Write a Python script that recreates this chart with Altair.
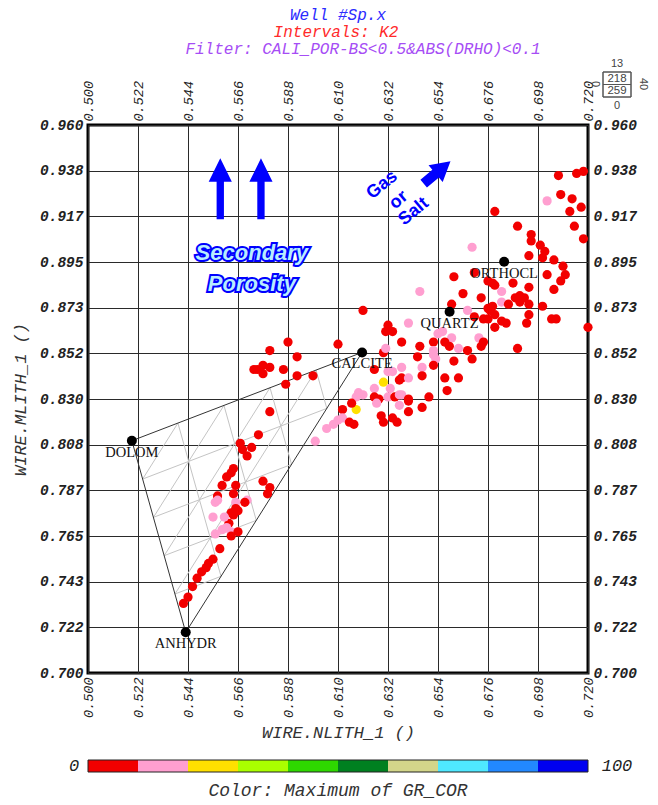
import altair as alt
import pandas as pd

# ---------------- texts ----------------
TITLE_WELL = "Well #Sp.x"
TITLE_INTERVALS = "Intervals: K2"
TITLE_FILTER = "Filter: CALI_POR-BS<0.5&ABS(DRHO)<0.1"
X_TITLE = "WIRE.NLITH_1 ()"
Y_TITLE = "WIRE.MLITH_1 ()"
COLOR_TITLE = "Color: Maximum of GR_COR"
COLORBAR_LABELS = ["0", "100"]
STATS_TOP = ["13"]
STATS_BOX = ["218", "259"]
STATS_LEFT = ["0"]
STATS_RIGHT = ["40"]
STATS_BOTTOM = ["0"]

X_TICKS = [0.500, 0.522, 0.544, 0.566, 0.588, 0.610, 0.632, 0.654, 0.676, 0.698, 0.720]
Y_TICKS = [0.700, 0.72167, 0.74333, 0.765, 0.78667, 0.80833, 0.830, 0.85167,
           0.87333, 0.895, 0.91667, 0.93833, 0.960]

# ---------------- data points ----------------
NLITH = [
    0.707, 0.715, 0.718, 0.702, 0.708, 0.713, 0.717, 0.712, 0.679, 0.714,
    0.689, 0.695, 0.695, 0.718, 0.669, 0.699, 0.701, 0.700, 0.694, 0.705,
    0.709, 0.702, 0.710, 0.708, 0.705, 0.661, 0.670, 0.676, 0.678, 0.679,
    0.687, 0.694, 0.646, 0.682, 0.665, 0.673, 0.688, 0.690, 0.692, 0.682,
    0.685, 0.678, 0.676, 0.690, 0.694, 0.700, 0.660, 0.667, 0.621, 0.677,
    0.679, 0.670, 0.674, 0.676, 0.682, 0.684, 0.694, 0.693, 0.704, 0.706,
    0.720, 0.679, 0.632, 0.631, 0.634, 0.641, 0.654, 0.656, 0.689, 0.660,
    0.657, 0.672, 0.674, 0.673, 0.663, 0.659, 0.667, 0.669, 0.661, 0.652,
    0.652, 0.638, 0.646, 0.630, 0.631, 0.652, 0.653, 0.645, 0.652, 0.647,
    0.647, 0.663, 0.657, 0.658, 0.650, 0.641, 0.641, 0.647, 0.626, 0.632,
    0.634, 0.638, 0.638, 0.637, 0.641, 0.630, 0.626, 0.633, 0.632, 0.619,
    0.621, 0.618, 0.626, 0.628, 0.627, 0.635, 0.637, 0.638, 0.637, 0.641,
    0.618, 0.616, 0.612, 0.612, 0.610, 0.608, 0.605, 0.600, 0.615, 0.617,
    0.629, 0.630, 0.634, 0.636, 0.610, 0.599, 0.588, 0.580, 0.592, 0.573,
    0.5745, 0.577, 0.577, 0.580, 0.586, 0.592, 0.587, 0.580, 0.575, 0.567,
    0.568, 0.570, 0.572, 0.564, 0.563, 0.561, 0.559, 0.565, 0.557, 0.564,
    0.577, 0.580, 0.579, 0.556, 0.557, 0.565, 0.570, 0.569, 0.566, 0.565,
    0.563, 0.564, 0.562, 0.555, 0.560, 0.556, 0.559, 0.561, 0.563, 0.566,
    0.563, 0.558, 0.555, 0.553, 0.552, 0.550, 0.548, 0.546, 0.544, 0.542,
]
MLITH = [
    0.936, 0.937, 0.938, 0.924, 0.927, 0.925, 0.921, 0.919, 0.919, 0.912,
    0.912, 0.908, 0.905, 0.906, 0.902, 0.903, 0.900, 0.897, 0.898, 0.896,
    0.893, 0.889, 0.889, 0.886, 0.882, 0.888, 0.890, 0.886, 0.885, 0.884,
    0.885, 0.883, 0.881, 0.881, 0.880, 0.878, 0.878, 0.879, 0.878, 0.876,
    0.875, 0.874, 0.873, 0.876, 0.875, 0.874, 0.875, 0.872, 0.872, 0.872,
    0.870, 0.869, 0.868, 0.868, 0.867, 0.866, 0.870, 0.866, 0.868, 0.868,
    0.864, 0.864, 0.865, 0.862, 0.862, 0.866, 0.861, 0.862, 0.854, 0.859,
    0.857, 0.859, 0.857, 0.855, 0.854, 0.855, 0.853, 0.849, 0.848, 0.857,
    0.853, 0.857, 0.855, 0.852, 0.854, 0.851, 0.849, 0.850, 0.846, 0.845,
    0.841, 0.840, 0.840, 0.834, 0.831, 0.829, 0.824, 0.826, 0.844, 0.843,
    0.843, 0.845, 0.840, 0.839, 0.840, 0.838, 0.835, 0.835, 0.831, 0.833,
    0.832, 0.831, 0.831, 0.830, 0.828, 0.831, 0.832, 0.832, 0.827, 0.830,
    0.825, 0.828, 0.825, 0.821, 0.820, 0.818, 0.816, 0.810, 0.819, 0.818,
    0.822, 0.819, 0.821, 0.819, 0.856, 0.841, 0.857, 0.853, 0.850, 0.844,
    0.844, 0.846, 0.842, 0.845, 0.844, 0.841, 0.837, 0.824, 0.813, 0.809,
    0.806, 0.803, 0.807, 0.797, 0.795, 0.793, 0.789, 0.789, 0.784, 0.785,
    0.791, 0.788, 0.785, 0.781, 0.782, 0.781, 0.782, 0.781, 0.777, 0.778,
    0.776, 0.775, 0.771, 0.774, 0.774, 0.766, 0.768, 0.769, 0.767, 0.767,
    0.765, 0.759, 0.754, 0.752, 0.750, 0.748, 0.745, 0.741, 0.736, 0.733,
]
GR = [
    5, 5, 5, 15, 5, 5, 5, 5, 5, 5,
    5, 5, 5, 5, 15, 5, 5, 5, 5, 5,
    5, 5, 5, 5, 5, 5, 5, 5, 5, 5,
    5, 5, 15, 15, 5, 5, 5, 5, 5, 15,
    5, 5, 5, 5, 5, 5, 5, 15, 5, 5,
    5, 5, 5, 5, 5, 5, 5, 5, 5, 5,
    5, 5, 5, 5, 5, 15, 15, 15, 5, 15,
    5, 15, 5, 5, 15, 5, 5, 5, 5, 5,
    15, 5, 5, 5, 15, 15, 15, 5, 5, 15,
    5, 5, 5, 5, 5, 5, 5, 5, 5, 15,
    15, 15, 5, 5, 15, 25, 15, 15, 15, 15,
    15, 15, 5, 5, 15, 5, 15, 15, 15, 5,
    25, 5, 5, 15, 15, 15, 15, 15, 5, 5,
    5, 5, 5, 5, 5, 5, 5, 5, 5, 5,
    5, 5, 5, 5, 5, 5, 5, 5, 5, 5,
    5, 5, 5, 5, 5, 5, 5, 5, 5, 5,
    5, 5, 5, 15, 15, 15, 15, 5, 5, 5,
    5, 5, 5, 15, 15, 15, 15, 15, 15, 5,
    5, 5, 5, 5, 5, 5, 5, 5, 5, 5,
]

# ---------------- minerals ----------------
MINERALS = ["DOLOM", "ANHYDR", "CALCITE", "QUARTZ", "ORTHOCL"]
MIN_N = [0.5193, 0.5430, 0.6206, 0.6591, 0.6831]
MIN_M = [0.8102, 0.7193, 0.8521, 0.8714, 0.8951]
TERNARY_STEPS = [0.2, 0.4, 0.6, 0.8]

# ---------------- annotations ----------------
ARROW_UP_N = [0.5582, 0.5761]
ARROW_UP_M = [0.9297, 0.9297]
ARROW_DIAG_N = [0.6536]
ARROW_DIAG_M = [0.9375]
SEC_TEXT = ["Secondary", "Porosity"]
SEC_N = [0.5721, 0.5721]
SEC_M = [0.8991, 0.8846]
GAS_TEXT = ["Gas", "or", "Salt"]
GAS_N = [0.6294, 0.6367, 0.6433]
GAS_M = [0.9315, 0.9244, 0.9189]

# ---------------- colour bar ----------------
GR_BIN_LO = [0, 10, 20, 30, 40, 50, 60, 70, 80, 90]
GR_BIN_HI = [10, 20, 30, 40, 50, 60, 70, 80, 90, 100]
GR_THRESH = [10, 20, 30, 40, 50, 60, 70, 80, 90]
GR_COLORS = ["#f20000", "#ff9fd0", "#ffe000", "#aaff00", "#2ed800",
             "#008020", "#d3d68a", "#4fe8ff", "#2288ff", "#0000f0"]

MONO = "Liberation Mono"
SANS = "Liberation Sans"
SERIF = "Liberation Serif"

W, H = 500, 548

xs = alt.Scale(domain=[0.5, 0.72], nice=False, zero=False)
ys = alt.Scale(domain=[0.70, 0.96], nice=False, zero=False)
cscale = alt.Scale(type="threshold", domain=GR_THRESH, range=GR_COLORS)


def XQ(f, axis=None):
    return alt.X(f, type="quantitative", scale=xs, axis=axis)


def YQ(f, axis=None):
    return alt.Y(f, type="quantitative", scale=ys, axis=axis)


pts_df = pd.DataFrame({"nlith": NLITH, "mlith": MLITH, "gr": GR})
min_df = pd.DataFrame({"name": MINERALS, "n": MIN_N, "m": MIN_M})

D = (MIN_N[0], MIN_M[0])
A = (MIN_N[1], MIN_M[1])
C = (MIN_N[2], MIN_M[2])


def lerp(p, q, f):
    return (p[0] + (q[0] - p[0]) * f, p[1] + (q[1] - p[1]) * f)


tern_rows = []
for f in TERNARY_STEPS:
    for p1, q1, p2, q2 in [(D, A, C, A), (C, D, A, D), (A, C, D, C)]:
        a = lerp(p1, q1, f)
        b = lerp(p2, q2, f)
        tern_rows.append({"x": a[0], "y": a[1], "x2": b[0], "y2": b[1]})
tern_df = pd.DataFrame(tern_rows)
tri_df = pd.DataFrame([
    {"x": D[0], "y": D[1], "x2": C[0], "y2": C[1]},
    {"x": C[0], "y": C[1], "x2": A[0], "y2": A[1]},
    {"x": A[0], "y": A[1], "x2": D[0], "y2": D[1]},
])

axis_x_common = dict(values=X_TICKS, format=".3f", labelAngle=270, labelFont=MONO,
                     labelFontStyle="italic", labelFontSize=13.5, labelColor="#222",
                     ticks=False, domain=False, labelPadding=4)
axis_y_common = dict(values=Y_TICKS, format=".3f", labelFont=MONO, labelFontStyle="italic",
                     labelFontWeight="bold", labelFontSize=14.5, labelColor="#222",
                     ticks=False, domain=False, labelPadding=5)

x_bottom = alt.Axis(orient="bottom", grid=True, gridColor="#2a2a2a", gridWidth=1, gridOpacity=1,
                    title=X_TITLE, titleFont=MONO, titleFontStyle="italic", titleFontWeight="normal",
                    titleFontSize=17, titleColor="#333", titlePadding=7, **axis_x_common)
x_top = alt.Axis(orient="top", grid=False, title=None, **axis_x_common)
y_left = alt.Axis(orient="left", grid=True, gridColor="#2a2a2a", gridWidth=1, gridOpacity=1,
                  title=Y_TITLE, titleFont=MONO, titleFontStyle="italic", titleFontWeight="normal",
                  titleFontSize=17, titleColor="#333", titlePadding=10, **axis_y_common)
y_right = alt.Axis(orient="right", grid=False, title=None, **axis_y_common)

tern = alt.Chart(tern_df).mark_rule(color="#c4c4c4", strokeWidth=1).encode(
    x=XQ("x"), y=YQ("y"), x2="x2:Q", y2="y2:Q")
tri = alt.Chart(tri_df).mark_rule(color="#333", strokeWidth=1).encode(
    x=XQ("x"), y=YQ("y"), x2="x2:Q", y2="y2:Q")

pts = alt.Chart(pts_df).mark_circle(size=85, opacity=1).encode(
    x=XQ("nlith", x_bottom), y=YQ("mlith", y_left),
    color=alt.Color("gr:Q", scale=cscale, legend=None))

axes2 = alt.Chart(min_df).mark_point(opacity=0).encode(
    x=XQ("n", x_top), y=YQ("m", y_right))

mins = alt.Chart(min_df).mark_circle(size=100, color="black", opacity=1).encode(
    x=XQ("n"), y=YQ("m"))
mlabels = alt.Chart(min_df).mark_text(dy=12, baseline="middle", font=SERIF, fontSize=14.5,
                                      color="#111").encode(x=XQ("n"), y=YQ("m"), text="name:N")

ARROW_UP_SHAPE = "M0,-1L0.38,-0.23L0.12,-0.23L0.12,1L-0.12,1L-0.12,-0.23L-0.38,-0.23Z"
ARROW_DIAG_SHAPE = "M0,-1L0.63,0.11L0.29,0.11L0.29,1L-0.29,1L-0.29,0.11L-0.63,0.11Z"

arrows_up = alt.Chart(pd.DataFrame({"n": ARROW_UP_N, "m": ARROW_UP_M})).mark_point(
    shape=ARROW_UP_SHAPE, size=3721, filled=True, color="#0000ff", opacity=1, strokeWidth=0
).encode(x=XQ("n"), y=YQ("m"))
arrow_diag = alt.Chart(pd.DataFrame({"n": ARROW_DIAG_N, "m": ARROW_DIAG_M})).mark_point(
    shape=ARROW_DIAG_SHAPE, size=1225, angle=50, filled=True, color="#0000ff", opacity=1, strokeWidth=0
).encode(x=XQ("n"), y=YQ("m"))

sec_df = pd.DataFrame({"t": SEC_TEXT, "n": SEC_N, "m": SEC_M})
sec_outline = alt.Chart(sec_df).mark_text(font=SANS, fontSize=22, fontWeight="bold", fontStyle="italic",
                                          fill="#0000ff", stroke="#0000ff", strokeWidth=4,
                                          baseline="middle").encode(x=XQ("n"), y=YQ("m"), text="t:N")
sec_fill = alt.Chart(sec_df).mark_text(font=SANS, fontSize=22, fontWeight="bold", fontStyle="italic",
                                       fill="#b8ecff", baseline="middle").encode(
    x=XQ("n"), y=YQ("m"), text="t:N")

gas = alt.Chart(pd.DataFrame({"t": GAS_TEXT, "n": GAS_N, "m": GAS_M})).mark_text(
    font=SANS, fontSize=18, fontWeight="bold", color="#0000ff", angle=320, baseline="middle"
).encode(x=XQ("n"), y=YQ("m"), text="t:N")

cbar_df = pd.DataFrame({"lo": GR_BIN_LO, "hi": GR_BIN_HI})
cbar = alt.Chart(cbar_df).mark_rect().encode(
    x=alt.X("lo:Q", scale=alt.Scale(domain=[0, 100], nice=False, zero=False), axis=None),
    x2="hi:Q", y=alt.value(635), y2=alt.value(647),
    color=alt.Color("lo:Q", scale=cscale, legend=None))
cbar_frame = alt.Chart(pd.DataFrame({"t": [COLOR_TITLE]})).mark_rect(
    fillOpacity=0, stroke="#222", strokeWidth=1).encode(
    x=alt.value(0), x2=alt.value(W), y=alt.value(635), y2=alt.value(647))


def label(text, x, y, size, color, font=MONO, style="italic", weight="normal", angle=0, align="center"):
    return alt.Chart(pd.DataFrame({"t": [text]})).mark_text(
        font=font, fontSize=size, fontStyle=style, fontWeight=weight, color=color,
        angle=angle, align=align, baseline="middle").encode(
        x=alt.value(x), y=alt.value(y), text="t:N")


texts = [
    label(TITLE_WELL, 250, -110, 16, "#2b2bff"),
    label(TITLE_INTERVALS, 248, -93, 16, "#ff2a2a"),
    label(TITLE_FILTER, 275, -76, 16, "#a64df5"),
    label(COLORBAR_LABELS[0], -14, 641, 17, "#222"),
    label(COLORBAR_LABELS[1], 529, 641, 17, "#222"),
    label(COLOR_TITLE, 250, 666, 18, "#333"),
    label(STATS_TOP[0], 529, -61, 11, "#444", font=SANS, style="normal"),
    label(STATS_BOX[0], 529, -46.5, 11.5, "#444", font=SANS, style="normal"),
    label(STATS_BOX[1], 529, -34.5, 11.5, "#444", font=SANS, style="normal"),
    label(STATS_BOTTOM[0], 529, -19, 11, "#444", font=SANS, style="normal"),
    label(STATS_LEFT[0], 507, -41, 11, "#444", font=SANS, style="normal", angle=90),
    label(STATS_RIGHT[0], 555, -41, 11, "#444", font=SANS, style="normal", angle=90),
]

box = alt.Chart(pd.DataFrame({"t": STATS_BOX})).mark_rect(
    fillOpacity=0, stroke="#555", strokeWidth=1).encode(
    x=alt.value(515), x2=alt.value(543), y=alt.value(-53), y2=alt.value(-28))
box_div = alt.Chart(pd.DataFrame({"t": STATS_BOX})).mark_rule(color="#555", strokeWidth=1).encode(
    x=alt.value(515), x2=alt.value(543), y=alt.value(-40.5))

chart = alt.layer(
    tern, tri, pts, axes2, mins, mlabels, arrows_up, arrow_diag,
    sec_outline, sec_fill, gas, cbar, cbar_frame, box, box_div, *texts
).resolve_scale(x="independent", y="independent").properties(
    width=W, height=H,
    padding={"left": 88, "top": 125, "right": 70, "bottom": 132},
    autosize=alt.AutoSizeParams(type="none"),
    background="white",
).configure_view(stroke="black", strokeWidth=3)

chart.save("out.html", embed_options={"renderer": "svg", "actions": False})
